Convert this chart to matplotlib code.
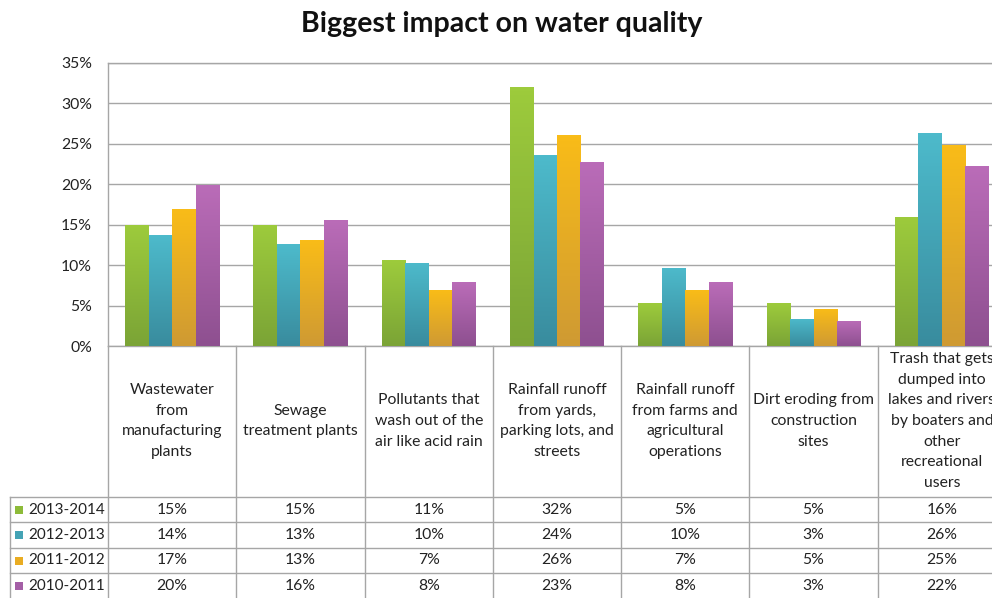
"""Biggest impact on water quality: Excel-style clustered bars with a data table."""

import matplotlib

matplotlib.use("Agg", force=True)
import matplotlib.pyplot as plt
import numpy as np
from matplotlib import transforms
from matplotlib.colors import LinearSegmentedColormap
from matplotlib.lines import Line2D
from matplotlib.patches import Rectangle

categories = [
    "Wastewater\nfrom\nmanufacturing\nplants",
    "Sewage\ntreatment plants",
    "Pollutants that\nwash out of the\nair like acid rain",
    "Rainfall runoff\nfrom yards,\nparking lots, and\nstreets",
    "Rainfall runoff\nfrom farms and\nagricultural\noperations",
    "Dirt eroding from\nconstruction\nsites",
    "Trash that gets\ndumped into\nlakes and rivers\nby boaters and\nother\nrecreational\nusers",
]
series_names = ["2013-2014", "2012-2013", "2011-2012", "2010-2011"]
s2013_2014 = [15.0, 15.0, 10.6, 32.0, 5.3, 5.3, 16.0]
s2012_2013 = [13.7, 12.6, 10.3, 23.6, 9.7, 3.4, 26.3]
s2011_2012 = [16.9, 13.1, 6.9, 26.1, 6.9, 4.6, 24.9]
s2010_2011 = [19.9, 15.6, 7.9, 22.7, 7.9, 3.1, 22.2]
series_values = [s2013_2014, s2012_2013, s2011_2012, s2010_2011]
y_ticks = [0, 5, 10, 15, 20, 25, 30, 35]

# gradient colours (top, bottom) per series
TOP_COLORS = ["#9DCB3C", "#4DBACB", "#F9BC18", "#BA6CB8"]
BOTTOM_COLORS = ["#7BA436", "#398C9E", "#CF9A33", "#8E5090"]
LEGEND_COLORS = ["#8DBB39", "#44A3B5", "#E9AC22", "#A45FA6"]
LINE = "#A6A6A6"
TEXT = "#222222"

plt.rcParams["font.family"] = ["Lato", "DejaVu Sans"]

W, H = 992, 598


def fx(px):
    return px / W


def fy(py):
    return 1 - py / H


fig = plt.figure(figsize=(W / 100, H / 100), dpi=100)
fig.patch.set_facecolor("white")

# plot area runs past the right edge, like the cropped original
ax = fig.add_axes([fx(108), fy(346), fx(1006) - fx(108), fy(63) - fy(346)])
n_cat = len(categories)
n_ser = len(series_values)
bar_w = 0.183
x = np.arange(n_cat) + 0.5

for k, vals in enumerate(series_values):
    cmap = LinearSegmentedColormap.from_list(f"g{k}", [BOTTOM_COLORS[k], TOP_COLORS[k]])
    bars = ax.bar(x + (k - (n_ser - 1) / 2) * bar_w, vals, width=bar_w,
                  color=LEGEND_COLORS[k], linewidth=0, zorder=2)
    for rect in bars:
        bx, bw, bh = rect.get_x(), rect.get_width(), rect.get_height()
        im = ax.imshow(np.linspace(0, 1, 64).reshape(-1, 1), cmap=cmap, origin="lower",
                       extent=[bx, bx + bw, 0, bh], aspect="auto", zorder=3)
        im.set_clip_path(rect)

ax.set_xlim(0, n_cat)
ax.set_ylim(0, 35)
ax.set_xticks([])
ax.set_yticks(y_ticks)
ax.set_yticklabels([f"{t}%" for t in y_ticks])
ax.tick_params(axis="y", length=0, pad=11.5, labelsize=11.3, labelcolor=TEXT)
ax.yaxis.grid(True, color=LINE, linewidth=1.0)
ax.set_axisbelow(True)
for sp in ax.spines.values():
    sp.set_color(LINE)
    sp.set_linewidth(1.0)

fig.text(fx(502), fy(24), "Biggest impact on water quality", ha="center", va="center",
         fontsize=20.5, fontweight="bold", color="#111111")

# data table below the axis
trans = transforms.blended_transform_factory(ax.transData, fig.transFigure)
col_w_px = (1006 - 108) / n_cat
leg_left = (10 - 108) / col_w_px
row_top = 497
row_h = 25.4

for i in range(n_cat + 1):
    fig.add_artist(Line2D([i, i], [fy(346), fy(640)], transform=trans, color=LINE, lw=1.0))
fig.add_artist(Line2D([leg_left, leg_left], [fy(row_top), fy(640)], transform=trans,
                      color=LINE, lw=1.0))
for r in range(n_ser + 1):
    yy = fy(row_top + r * row_h)
    fig.add_artist(Line2D([leg_left, n_cat], [yy, yy], transform=trans, color=LINE, lw=1.0))

for i, cat in enumerate(categories):
    fig.text(i + 0.5, fy(421), cat, transform=trans, ha="center", va="center",
             multialignment="center", fontsize=11.3, color=TEXT, linespacing=1.6)

for r, (name, vals) in enumerate(zip(series_names, series_values)):
    yc = row_top + (r + 0.5) * row_h
    fig.add_artist(Rectangle((fx(15), fy(yc + 4)), fx(8), 8 / H, transform=fig.transFigure,
                             facecolor=LEGEND_COLORS[r], edgecolor="none"))
    fig.text(fx(28), fy(yc), name, ha="left", va="center", fontsize=11, color=TEXT)
    for i, v in enumerate(vals):
        fig.text(i + 0.5, fy(yc), f"{v:.0f}%", transform=trans, ha="center", va="center",
                 fontsize=11.3, color=TEXT)

fig.savefig("out.png", dpi=100)
plt.close(fig)
